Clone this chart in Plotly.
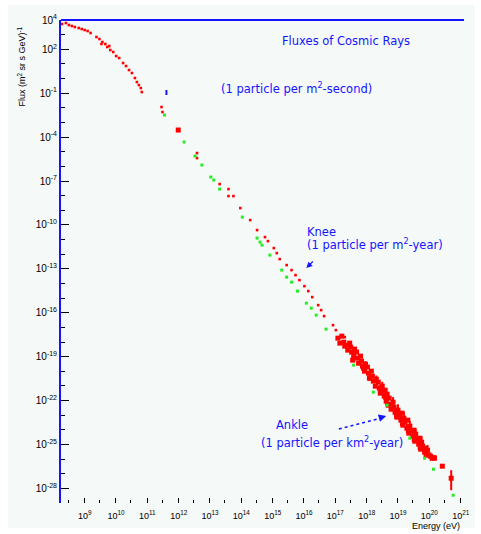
import numpy as np
import plotly.graph_objects as go

# ---- data: log10(E / eV) and log10(flux / (m^2 sr s GeV)^-1) ----
# direct measurements and lower-energy air-shower points (red)
red_log_energy = [8.277, 8.402, 8.497, 8.591, 8.686, 8.811, 8.906, 9.000, 9.094, 9.189,
                  9.377, 9.472, 9.535, 9.566, 9.660, 9.723, 9.786, 9.818, 9.912, 10.006,
                  10.101, 10.226, 10.321, 10.415, 10.509, 10.604, 10.667, 10.730, 10.792, 10.824,
                  11.453, 11.484, 12.585, 12.585, 13.308, 13.591, 13.591, 13.748, 13.969, 14.283,
                  14.503, 14.755, 14.849, 15.038, 15.132, 15.226, 15.447, 15.604, 15.730, 15.855,
                  16.013, 16.138, 16.264, 16.453, 16.547, 16.642, 16.925, 17.019, 17.145, 17.302]
red_log_flux = [3.727, 3.795, 3.658, 3.590, 3.522, 3.453, 3.385, 3.316, 3.248, 3.111,
                2.838, 2.701, 2.360, 2.496, 2.360, 2.155, 2.223, 1.949, 1.813, 1.539,
                1.403, 1.061, 0.856, 0.582, 0.377, 0.036, -0.238, -0.443, -0.648, -0.921,
                -1.947, -2.289, -5.091, -5.433, -7.210, -7.552, -8.030, -8.030, -8.850, -9.670,
                -10.354, -10.832, -11.106, -11.584, -11.926, -12.336, -12.746, -13.088, -13.430, -13.772,
                -14.182, -14.523, -14.934, -15.481, -15.822, -16.232, -16.848, -17.189, -17.668, -17.668]

# single large point
big_log_energy = [11.987]
big_log_flux = [-3.519]

# ultra-high-energy air-shower points (red, with errors in decades)
uhe_log_energy = [17.082, 17.208, 17.271, 17.365, 17.459, 17.396, 17.522, 17.616, 17.585, 17.711,
                  17.805, 17.742, 17.868, 17.962, 17.931, 18.057, 18.151, 18.088, 18.214, 18.308,
                  18.277, 18.403, 18.497, 18.434, 18.560, 18.654, 18.623, 18.749, 18.843, 18.780,
                  18.906, 19.000, 18.969, 19.094, 19.189, 19.157, 19.283, 19.378, 19.346, 19.472,
                  19.566, 19.535, 19.661, 19.755, 19.723, 19.849, 19.944, 20.038, 20.164, 20.415,
                  20.698]
uhe_log_flux = [-17.736, -17.600, -18.010, -18.215, -18.078, -18.556, -18.693, -18.488, -18.967, -19.103,
                -18.967, -19.445, -19.650, -19.513, -19.992, -20.129, -19.992, -20.470, -20.675, -20.539,
                -21.017, -21.154, -21.017, -21.496, -21.701, -21.564, -22.042, -22.248, -22.111, -22.589,
                -22.794, -22.658, -23.136, -23.341, -23.205, -23.683, -23.888, -23.751, -24.230, -24.435,
                -24.298, -24.777, -24.982, -24.845, -25.323, -25.529, -25.392, -25.802, -25.939, -26.485,
                -27.306]
uhe_err_up = [0, 0.10, 0, 0.12, 0, 0.10, 0, 0.15, 0, 0.12,
              0, 0.15, 0, 0.20, 0, 0.15, 0, 0.20, 0, 0.25,
              0, 0.20, 0.30, 0, 0.25, 0, 0.30, 0, 0.35, 0,
              0.45, 0.40, 0, 0.35, 0.45, 0, 0.30, 0.35, 0, 0.35,
              0.40, 0, 0.35, 0.40, 0, 0.30, 0.35, 0.25, 0, 0,
              0.547]
uhe_err_dn = [0, 0.10, 0, 0.12, 0, 0.10, 0, 0.15, 0, 0.12,
              0, 0.15, 0, 0.20, 0, 0.15, 0, 0.20, 0, 0.25,
              0, 0.20, 0.30, 0, 0.25, 0, 0.30, 0, 0.35, 0,
              0.45, 0.40, 0, 0.40, 0.50, 0, 0.35, 0.40, 0, 0.40,
              0.45, 0, 0.40, 0.45, 0, 0.35, 0.40, 0.30, 0, 0,
              0.820]
uhe_xerr = [0] * 47 + [0.189, 0, 0, 0]

# further ultra-high-energy points (red, no error bars)
uhe2_log_energy = [17.145, 17.302, 17.491, 17.554, 17.679, 17.837, 17.899, 18.025, 18.183, 18.371,
                   18.466, 18.592, 18.717, 18.686, 18.875, 19.032, 19.126, 19.220, 19.315, 19.409,
                   19.503, 19.598, 19.692, 19.786, 19.881, 19.975, 20.101]
uhe2_log_flux = [-18.078, -18.283, -18.351, -19.240, -18.693, -19.308, -19.787, -19.718, -20.334, -20.744,
                 -21.359, -21.291, -21.837, -22.316, -22.453, -22.999, -22.863, -23.478, -23.341, -24.093,
                 -24.025, -24.640, -24.572, -25.118, -25.255, -25.734, -25.939]

# second data compilation (green)
green_log_energy = [11.547, 12.176, 12.522, 12.742, 13.025, 13.120, 13.308, 14.032, 14.503, 14.598,
                    14.660, 14.912, 15.289, 15.447, 15.604, 15.793, 16.076, 16.233, 16.390, 16.705,
                    17.585, 18.214, 18.654, 19.378, 19.849, 20.132, 20.761]
green_log_flux = [-2.494, -4.339, -5.296, -5.911, -6.731, -6.936, -7.552, -9.466, -10.901, -11.174,
                  -11.379, -12.063, -13.088, -13.567, -13.908, -14.524, -15.344, -15.686, -16.164, -17.121,
                  -19.582, -21.427, -22.316, -24.572, -25.939, -26.690, -28.468]

# axis labels
x_tick_exp = list(range(9, 22))
y_tick_exp = [4, 2, -1, -4, -7, -10, -13, -16, -19, -22, -25, -28]

RED = "rgb(255,0,0)"
GREEN = "rgb(40,235,40)"
BLUE = "rgb(20,20,255)"
FONT = "Liberation Sans, Arial, sans-serif"
NOTE_FONT = "DejaVu Sans, Verdana, sans-serif"


def lin(v):
    return 10.0 ** np.asarray(v, dtype=float)


fig = go.Figure()

fig.add_trace(go.Scatter(
    x=lin(red_log_energy), y=lin(red_log_flux), mode="markers",
    marker=dict(symbol="square", size=2.6, color=RED, line=dict(width=0)),
    hoverinfo="skip", showlegend=False))

fig.add_trace(go.Scatter(
    x=lin(big_log_energy), y=lin(big_log_flux), mode="markers",
    marker=dict(symbol="square", size=5, color=RED, line=dict(width=0)),
    hoverinfo="skip", showlegend=False))

fig.add_trace(go.Scatter(
    x=lin(uhe2_log_energy), y=lin(uhe2_log_flux), mode="markers",
    marker=dict(symbol="square", size=5, color=RED, line=dict(width=0)),
    hoverinfo="skip", showlegend=False))

ue = lin(uhe_log_energy)
uf = lin(uhe_log_flux)
up = lin(np.array(uhe_log_flux) + np.array(uhe_err_up)) - uf
dn = uf - lin(np.array(uhe_log_flux) - np.array(uhe_err_dn))
xp = lin(np.array(uhe_log_energy) + np.array(uhe_xerr)) - ue
xm = ue - lin(np.array(uhe_log_energy) - np.array(uhe_xerr))
fig.add_trace(go.Scatter(
    x=ue, y=uf, mode="markers",
    marker=dict(symbol="square", size=5, color=RED, line=dict(width=0)),
    error_y=dict(type="data", symmetric=False, array=up, arrayminus=dn,
                 color=RED, thickness=2, width=0),
    error_x=dict(type="data", symmetric=False, array=xp, arrayminus=xm,
                 color=RED, thickness=2, width=0),
    hoverinfo="skip", showlegend=False))

fig.add_trace(go.Scatter(
    x=lin(green_log_energy), y=lin(green_log_flux), mode="markers",
    marker=dict(symbol="square", size=3, color=GREEN, line=dict(width=0)),
    hoverinfo="skip", showlegend=False))

# ---- layout ----
L, R, T, B = 61, 11, 20, 31
W, H = 481, 534
pw, ph = W - L - R, H - T - B


def px(X):
    return (X - L) / pw


def py(Y):
    return 1 - (Y - T) / ph


fig.update_layout(
    width=W, height=H, autosize=False,
    margin=dict(l=L, r=R, t=T, b=B, pad=0),
    paper_bgcolor="white", plot_bgcolor="rgba(0,0,0,0)",
    font=dict(family=FONT, color="black"),
    showlegend=False,
)

fig.update_xaxes(
    type="log", range=[8.245, 21.107],
    showgrid=False, zeroline=False, showline=False,
    tickvals=[10.0 ** e for e in x_tick_exp],
    ticktext=[f"10<sup>{e}</sup>" for e in x_tick_exp],
    ticks="inside", ticklen=5, tickwidth=1, tickcolor="black",
    ticklabelstandoff=6,
    tickfont=dict(size=9, color="black", family=FONT),
    minor=dict(tickvals=[3 * 10.0 ** e for e in range(8, 22)],
               ticks="inside", ticklen=3, tickwidth=1, tickcolor="black"),
)

fig.update_yaxes(
    type="log", range=[-29, 4],
    showgrid=False, zeroline=False,
    showline=True, linecolor=BLUE, linewidth=2,
    tickvals=[10.0 ** e for e in y_tick_exp],
    ticktext=[f"10<sup>{e}</sup>" for e in y_tick_exp],
    ticks="inside", ticklen=8, tickwidth=1, tickcolor="black",
    tickfont=dict(size=10, color="black", family=FONT),
    minor=dict(tickvals=[10.0 ** e for e in range(-29, 5)],
               ticks="inside", ticklen=4, tickwidth=1, tickcolor="black"),
)

shapes = [
    # canvas tint
    dict(type="rect", xref="paper", yref="paper", layer="below",
         x0=px(7), x1=px(481), y0=py(528), y1=py(5),
         fillcolor="#f5f9f7", line=dict(width=0)),
    # top frame line
    dict(type="line", xref="paper", yref="paper",
         x0=0, x1=1, y0=1, y1=1, line=dict(color=BLUE, width=2)),
    # marker under the 1 particle / m^2 s note
    dict(type="line", xref="paper", yref="paper",
         x0=px(168), x1=px(168), y0=py(90), y1=py(95), line=dict(color=BLUE, width=2)),
    # dotted pointer to the ankle
    dict(type="line", xref="paper", yref="paper",
         x0=px(343), x1=px(386), y0=py(429), y1=py(418),
         line=dict(color=BLUE, width=1.5, dash="dot")),
]
fig.update_layout(shapes=shapes)

note = dict(size=11.5, color=BLUE, family=NOTE_FONT)
ann = [
    dict(text="Fluxes of Cosmic Rays", x=px(350), y=py(41), xanchor="center", font=note),
    dict(text="(1 particle per m<sup>2</sup>-second)", x=px(300), y=py(89), xanchor="center", font=note),
    dict(text="Knee", x=px(309), y=py(232), xanchor="left", font=note),
    dict(text="(1 particle per m<sup>2</sup>-year)", x=px(309), y=py(244), xanchor="left", font=note),
    dict(text="Ankle", x=px(277), y=py(425), xanchor="left", font=note),
    dict(text="(1 particle per km<sup>2</sup>-year)", x=px(262), y=py(442), xanchor="left", font=note),
    dict(text="Energy (eV)", x=px(468), y=py(526), xanchor="right",
         font=dict(size=9, color="black", family=FONT)),
    dict(text="Flux (m<sup>2</sup> sr s GeV)<sup>-1</sup>", x=px(21), y=py(25), xanchor="center",
         yanchor="top", textangle=-90, font=dict(size=9, color="black", family=FONT)),
]
for a in ann:
    a.update(xref="paper", yref="paper", showarrow=False)
    a.setdefault("yanchor", "middle")

# arrow heads
ann.append(dict(text="", xref="paper", yref="paper", x=px(310), y=py(268),
                ax=8, ay=-8, showarrow=True, arrowhead=2, arrowsize=1,
                arrowwidth=1.2, arrowcolor=BLUE))
ann.append(dict(text="", xref="paper", yref="paper", x=px(391), y=py(416),
                ax=-7, ay=2, showarrow=True, arrowhead=2, arrowsize=1,
                arrowwidth=1.5, arrowcolor=BLUE))
fig.update_layout(annotations=ann)

fig.write_html("out.html")
